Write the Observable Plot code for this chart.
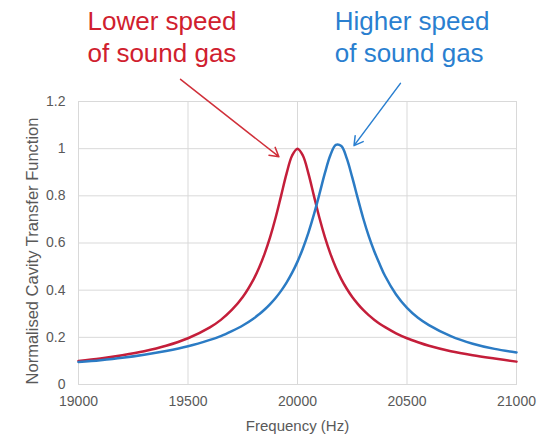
<!DOCTYPE html>
<html>
<head>
<meta charset="utf-8">
<script src="https://cdn.jsdelivr.net/npm/d3@7"></script>
<script src="https://cdn.jsdelivr.net/npm/@observablehq/plot@0.6"></script>
<style>
  html, body { margin: 0; padding: 0; background: #fff; }
  #chart { width: 539px; height: 434px; }
</style>
</head>
<body>
<div id="chart"></div>
<script>
// Frequencies (Hz)
const freq = [19000, 19100, 19200, 19300, 19400, 19500, 19600, 19650, 19700, 19750,
  19800, 19825, 19850, 19875, 19900, 19925, 19950, 19975, 20000, 20025, 20050, 20075,
  20100, 20125, 20150, 20175, 20200, 20225, 20250, 20275, 20300, 20325, 20350, 20375,
  20400, 20450, 20500, 20550, 20600, 20700, 20800, 20900, 21000];
// Lower speed of sound gas (red)
const lowerSpeed = [0.100, 0.110, 0.124, 0.141, 0.164, 0.196, 0.242, 0.274, 0.316, 0.371,
  0.447, 0.496, 0.555, 0.625, 0.707, 0.800, 0.894, 0.970, 1.000, 0.970, 0.894, 0.800,
  0.707, 0.625, 0.555, 0.496, 0.447, 0.406, 0.371, 0.342, 0.316, 0.294, 0.275, 0.258,
  0.243, 0.217, 0.196, 0.179, 0.164, 0.141, 0.124, 0.110, 0.097];
// Higher speed of sound gas (blue)
const higherSpeed = [0.095, 0.103, 0.113, 0.126, 0.142, 0.162, 0.189, 0.205, 0.226, 0.250,
  0.280, 0.298, 0.318, 0.341, 0.367, 0.397, 0.432, 0.473, 0.521, 0.578, 0.644, 0.721,
  0.807, 0.896, 0.972, 1.016, 1.011, 0.959, 0.878, 0.790, 0.705, 0.630, 0.566, 0.511,
  0.460, 0.382, 0.325, 0.283, 0.252, 0.205, 0.173, 0.151, 0.136];

const xTicks = [19000, 19500, 20000, 20500, 21000];
const yTicks = [0, 0.2, 0.4, 0.6, 0.8, 1, 1.2];

// Annotations (data units)
const labelLines = [
  {text: "Lower speed", x: 19041, y: 1.537, color: "#d0202e"},
  {text: "of sound gas", x: 19041, y: 1.401, color: "#d0202e"},
  {text: "Higher speed", x: 20170, y: 1.537, color: "#2a7fd0"},
  {text: "of sound gas", x: 20170, y: 1.401, color: "#2a7fd0"}
];
const arrows = [
  {x1: 19466, y1: 1.294, x2: 19915, y2: 0.966, color: "#d0303a"},
  {x1: 20470, y1: 1.277, x2: 20258, y2: 1.013, color: "#2a7fd0"}
];

const rows = [];
freq.forEach((f, i) => {
  rows.push({f, v: lowerSpeed[i], s: "lower"});
  rows.push({f, v: higherSpeed[i], s: "higher"});
});

const chart = Plot.plot({
  width: 539,
  height: 434,
  marginLeft: 78,
  marginRight: 23,
  marginTop: 101,
  marginBottom: 50,
  style: {fontFamily: "'Liberation Sans', Arial, sans-serif", fontSize: "14px", color: "#595959", background: "#fff", overflow: "visible"},
  x: {domain: [19000, 21000], ticks: xTicks, tickFormat: d => String(d), label: null},
  y: {domain: [0, 1.2], ticks: yTicks, tickFormat: d => String(d), label: null},
  marks: [
    Plot.gridX(xTicks, {stroke: "#d9d9d9", strokeOpacity: 1}),
    Plot.gridY(yTicks, {stroke: "#d9d9d9", strokeOpacity: 1}),
    Plot.frame({stroke: "#d9d9d9"}),
    Plot.axisX(xTicks, {tickSize: 0, tickPadding: 12, tickFormat: d => String(d), fontSize: 14, fill: "#595959", label: null}),
    Plot.axisY(yTicks, {tickSize: 0, tickPadding: 13, tickFormat: d => String(d), fontSize: 14, fill: "#595959", label: null}),
    Plot.text(["Frequency (Hz)"], {frameAnchor: "bottom", dy: 46, fontSize: 15, fill: "#595959"}),
    Plot.text(["Normalised Cavity Transfer Function"], {frameAnchor: "left", textAnchor: "middle", dx: -46, dy: 8, rotate: -90, fontSize: 16.5, fill: "#595959"}),
    Plot.line(rows.filter(d => d.s === "lower"), {x: "f", y: "v", stroke: "#c41e3a", strokeWidth: 2.5, curve: "catmull-rom"}),
    Plot.line(rows.filter(d => d.s === "higher"), {x: "f", y: "v", stroke: "#2b7bc4", strokeWidth: 2.5, curve: "catmull-rom"}),
    Plot.arrow(arrows, {x1: "x1", y1: "y1", x2: "x2", y2: "y2", stroke: "color", strokeWidth: 1.5, headLength: 10, clip: false}),
    Plot.text(labelLines, {x: "x", y: "y", text: "text", fill: "color", textAnchor: "start", fontSize: 26, clip: false})
  ]
});
document.getElementById("chart").appendChild(chart);
</script>
</body>
</html>
